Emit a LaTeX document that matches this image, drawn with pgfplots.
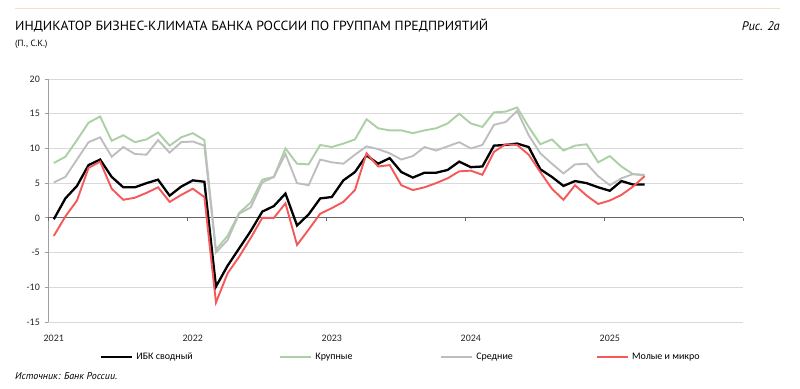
\documentclass[border=0pt]{standalone}
\usepackage{fontspec}
\setmainfont{Carlito}
\newfontfamily\ptsans{PT Sans}
\usepackage{pgfplots}
\pgfplotsset{compat=1.18}
\definecolor{cgreen}{RGB}{172,208,166}
\definecolor{cgray}{RGB}{190,190,190}
\definecolor{cred}{RGB}{245,88,88}
\definecolor{ctan}{RGB}{240,226,200}

\pgfplotstableread{
x ibk big mid small
0.5 -0.2 7.9 5.1 -2.6
1.5 2.8 8.8 5.9 0.2
2.5 4.6 11.2 8.4 2.5
3.5 7.6 13.7 10.9 7.2
4.5 8.4 14.6 11.6 8.1
5.5 5.9 11.1 8.8 4.2
6.5 4.4 11.9 10.2 2.6
7.5 4.4 10.9 9.2 2.9
8.5 5.0 11.3 9.1 3.6
9.5 5.5 12.3 11.2 4.4
10.5 3.2 10.4 9.4 2.3
11.5 4.5 11.6 10.9 3.3
12.5 5.4 12.2 11.0 4.2
13.5 5.2 11.2 10.4 3.0
14.5 -9.9 -4.6 -5.0 -12.2
15.5 -6.9 -2.6 -3.2 -8.0
16.5 -4.4 0.7 0.6 -5.6
17.5 -1.9 2.2 1.5 -2.9
18.5 0.9 5.5 5.1 0.0
19.5 1.7 5.9 5.9 0.0
20.5 3.5 10.0 9.2 2.1
21.5 -1.1 7.8 5.0 -3.9
22.5 0.5 7.7 4.7 -1.7
23.5 2.8 10.5 8.4 0.6
24.5 3.0 10.2 8.0 1.4
25.5 5.4 10.7 7.8 2.3
26.5 6.6 11.3 9.1 4.0
27.5 9.0 14.2 10.3 9.3
28.5 7.8 12.9 9.9 7.4
29.5 8.6 12.6 9.3 7.6
30.5 6.6 12.6 8.4 4.7
31.5 5.8 12.2 8.9 4.0
32.5 6.5 12.6 10.2 4.4
33.5 6.5 12.9 9.7 5.0
34.5 6.9 13.6 10.3 5.7
35.5 8.1 15.0 10.9 6.7
36.5 7.3 13.6 10.0 6.8
37.5 7.4 13.1 10.5 6.2
38.5 10.4 15.2 13.4 9.5
39.5 10.5 15.3 13.8 10.6
40.5 10.7 15.9 15.4 10.5
41.5 10.2 13.1 11.9 9.1
42.5 7.0 10.6 9.3 6.6
43.5 5.9 11.3 7.8 4.2
44.5 4.6 9.7 6.4 2.6
45.5 5.3 10.4 7.7 4.7
46.5 5.0 10.6 7.8 3.2
47.5 4.4 8.0 6.0 2.0
48.5 3.9 8.9 4.7 2.5
49.5 5.3 7.4 5.7 3.3
50.5 4.8 6.3 6.3 4.5
51.5 4.8 6.1 6.2 6.0
}\datatable

\begin{document}
\begin{tikzpicture}[x=1bp,y=1bp]
\begin{axis}[
  scale only axis, width=695bp, height=243bp,
  xmin=0, xmax=60, ymin=-15, ymax=20,
  axis x line*=bottom, axis y line*=left,
  separate axis lines,
  x axis line style={draw=none},
  y axis line style={color=gray!75, line width=0.8bp},
  xtick={0.5,12.5,24.5,36.5,48.5},
  xticklabels={2021,2022,2023,2024,2025},
  xtick style={draw=none},
  ytick={-15,-10,-5,0,5,10,15,20},
  yticklabels={-15,-10,-5,0,5,10,15,20},
  ytick style={color=gray!75, line width=0.8bp},
  tick align=outside, major tick length=3bp,
  ymajorgrids,
  major grid style={color=gray!30, line width=0.8bp},
  tick label style={font=\fontsize{10}{12}\selectfont, text=black!85},
  yticklabel style={anchor=east, inner sep=0pt, xshift=-5bp},
  xticklabel style={anchor=north, inner sep=0pt, yshift=-10bp},
  clip=false,
  legend image code/.code={\draw[#1] (0bp,0bp) -- (31bp,0bp);},
  legend cell align=left,
  legend columns=4,
  legend style={at={(0.0748,-0.144)}, anchor=west, draw=none, fill=none,
    inner sep=0pt, font=\fontsize{10}{12}\selectfont,
    /tikz/every odd column/.append style={column sep=3bp},
    nodes={inner sep=0pt}},
]
\coordinate (LL) at (rel axis cs:0,0);
\draw[color=gray!80!black, line width=0.8bp] (axis cs:0,0) -- (axis cs:60,0);
\pgfplotsinvokeforeach{0,12,24,36,48,60}{
  \draw[color=gray!80!black, line width=0.8bp] (axis cs:#1,0) -- ([yshift=-3bp]axis cs:#1,0);
}
\addplot[black, line width=2.3bp] table[x=x, y=ibk] {\datatable};
\addlegendentry{\makebox[143bp][l]{ИБК сводный}}
\addplot[cgreen, line width=1.9bp] table[x=x, y=big] {\datatable};
\addlegendentry{\makebox[125bp][l]{Крупные}}
\addplot[cgray, line width=1.9bp] table[x=x, y=mid] {\datatable};
\addlegendentry{\makebox[120bp][l]{Средние}}
\addplot[cred, line width=1.9bp] table[x=x, y=small] {\datatable};
\addlegendentry{Молые и микро}
\end{axis}
\begin{scope}[shift={(LL)}]
\path[use as bounding box] (-48,-66) rectangle (752,322);
\draw[ctan, line width=0.8bp] (-33,314) -- (732,314);
\node[anchor=base west, inner sep=0pt] at (-33,292) {\scalebox{1.037}[1]{\ptsans\fontsize{13.3}{15}\selectfont ИНДИКАТОР БИЗНЕС-КЛИМАТА БАНКА РОССИИ ПО ГРУППАМ ПРЕДПРИЯТИЙ}};
\node[anchor=base west, inner sep=0pt] at (-33,275.5) {\ptsans\fontsize{9}{11}\selectfont (П., С.К.)};
\node[anchor=base east, inner sep=0pt] at (732,292) {\ptsans\itshape\fontsize{12.5}{14}\selectfont Рис. 2а};
\node[anchor=base west, inner sep=0pt] at (-33,-57) {\ptsans\itshape\fontsize{10}{12}\selectfont Источник: Банк России.};
\end{scope}
\end{tikzpicture}
\end{document}
